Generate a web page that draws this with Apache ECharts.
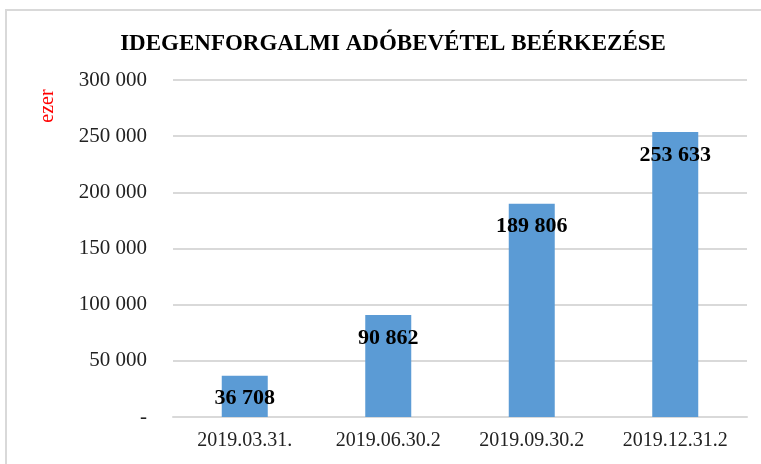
<!DOCTYPE html>
<html>
<head>
<meta charset="utf-8">
<script src="https://cdn.jsdelivr.net/npm/echarts@6/dist/echarts.min.js"></script>
<style>
  html, body { margin: 0; padding: 0; background: #fff; }
  #chart { width: 761px; height: 464px; }
</style>
</head>
<body>
<div id="chart"></div>
<script>
const dates = ['2019.03.31.', '2019.06.30.2', '2019.09.30.2', '2019.12.31.2'];
const values = [36708, 90862, 189806, 253633];
const yTicks = [0, 50000, 100000, 150000, 200000, 250000, 300000];

const serif = '"Liberation Serif", "Times New Roman", serif';

function fmt(v) {
  if (v === 0) return '-';
  return String(v).replace(/\B(?=(\d{3})+(?!\d))/g, ' ');
}

const chart = echarts.init(document.getElementById('chart'), null, { renderer: 'canvas' });

const option = {
  animation: false,
  backgroundColor: '#fff',
  title: {
    text: 'IDEGENFORGALMI ADÓBEVÉTEL BEÉRKEZÉSE',
    left: 388,
    textAlign: 'center',
    top: 28,
    textStyle: {
      fontFamily: serif,
      fontWeight: 'bold',
      fontSize: 23,
      color: '#000'
    }
  },
  graphic: [
    {
      type: 'polyline',
      shape: { points: [[6, 464], [6, 10], [761, 10]] },
      style: { stroke: '#d9d9d9', lineWidth: 2, fill: null }
    },
    {
      type: 'text',
      x: 48,
      y: 106,
      rotation: Math.PI / 2,
      style: {
        text: 'ezer',
        fill: '#ff0000',
        font: '20px ' + serif,
        align: 'center',
        verticalAlign: 'middle'
      }
    }
  ],
  grid: {
    left: 173,
    right: 14,
    top: 80,
    bottom: 47
  },
  xAxis: {
    type: 'category',
    data: dates,
    axisTick: { show: false },
    axisLine: { lineStyle: { color: '#d9d9d9', width: 2 } },
    axisLabel: {
      fontFamily: serif,
      fontSize: 20,
      color: '#222',
      margin: 14
    }
  },
  yAxis: {
    type: 'value',
    min: yTicks[0],
    max: yTicks[yTicks.length - 1],
    interval: 50000,
    axisLine: { show: false },
    axisTick: { show: false },
    splitLine: { lineStyle: { color: '#d9d9d9', width: 2 } },
    axisLabel: {
      fontFamily: serif,
      fontSize: 21,
      color: '#222',
      margin: 26,
      formatter: fmt
    }
  },
  series: [
    {
      type: 'bar',
      data: values,
      barWidth: 46,
      itemStyle: { color: '#5b9bd5' },
      label: {
        show: true,
        position: 'insideTop',
        distance: 12,
        fontFamily: serif,
        fontWeight: 'bold',
        fontSize: 22,
        color: '#000',
        formatter: function (p) { return fmt(p.value); }
      }
    }
  ]
};

chart.setOption(option);
</script>
</body>
</html>
